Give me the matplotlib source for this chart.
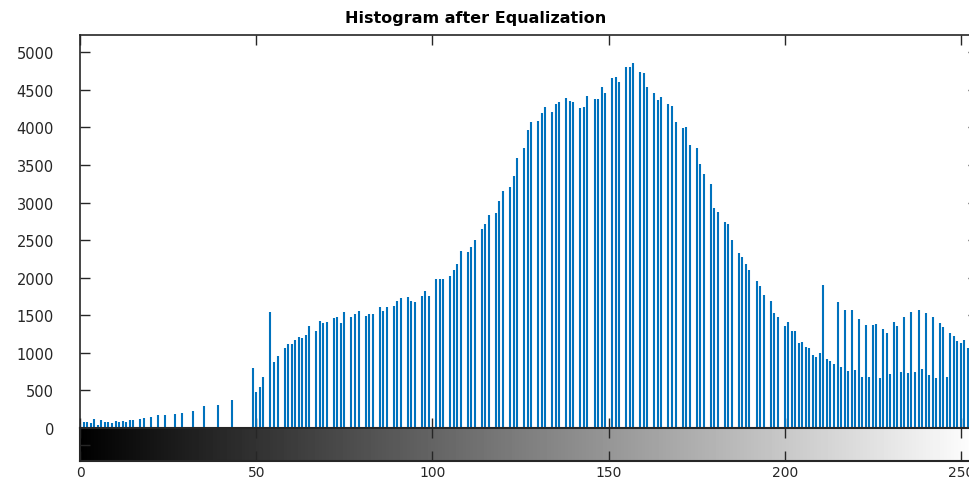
import matplotlib
matplotlib.use("Agg")
import matplotlib.pyplot as plt
import numpy as np

# gray levels with a nonzero count, and their counts
levels = [0, 1, 2, 3, 4, 5, 6, 7, 8, 9, 10, 11, 12, 13, 14, 15, 17, 18, 20, 22,
          24, 27, 29, 32, 35, 39, 43, 49, 50, 51, 52, 54, 55, 56, 58, 59, 60, 61,
          62, 63, 64, 65, 67, 68, 69, 70, 72, 73, 74, 75, 77, 78, 79, 81, 82, 83,
          85, 86, 87, 89, 90, 91, 93, 94, 95, 97, 98, 99, 101, 102, 103, 105, 106,
          107, 108, 110, 111, 112, 114, 115, 116, 118, 119, 120, 122, 123, 124,
          126, 127, 128, 130, 131, 132, 134, 135, 136, 138, 139, 140, 142, 143,
          144, 146, 147, 148, 149, 151, 152, 153, 155, 156, 157, 159, 160, 161,
          163, 164, 165, 167, 168, 169, 171, 172, 173, 175, 176, 177, 179, 180,
          181, 183, 184, 185, 187, 188, 189, 190, 192, 193, 194, 196, 197, 198,
          200, 201, 202, 203, 204, 205, 206, 207, 208, 209, 210, 211, 212, 213,
          214, 215, 216, 217, 218, 219, 220, 221, 222, 223, 224, 225, 226, 227,
          228, 229, 230, 231, 232, 233, 234, 235, 236, 237, 238, 239, 240, 241,
          242, 243, 244, 245, 246, 247, 248, 249, 250, 251, 252]
counts = [50, 75, 75, 67, 115, 44, 106, 75, 75, 71, 89, 80, 93, 84, 102, 106, 120, 137, 142, 173,
          177, 182, 204, 226, 288, 306, 368, 805, 482, 541, 674, 1548, 878, 963, 1060, 1113, 1118, 1175,
          1207, 1193, 1233, 1357, 1295, 1428, 1393, 1415, 1460, 1473, 1397, 1540, 1473, 1513, 1561, 1495, 1517, 1517,
          1615, 1557, 1615, 1624, 1690, 1730, 1743, 1695, 1681, 1753, 1819, 1761, 1979, 1979, 1979, 2019, 2103,
          2178, 2351, 2338, 2413, 2502, 2644, 2719, 2835, 2866, 3016, 3154, 3207, 3354, 3593,
          3731, 3962, 4072, 4081, 4192, 4276, 4205, 4312, 4334, 4387, 4356, 4339, 4263, 4276,
          4418, 4374, 4374, 4538, 4454, 4658, 4667, 4601, 4809, 4809, 4858, 4734, 4720, 4534,
          4454, 4361, 4401, 4312, 4281, 4072, 3992, 4010, 3771, 3726, 3509, 3376, 3252, 2923,
          2875, 2746, 2711, 2506, 2324, 2271, 2183, 2100, 1956, 1886, 1770, 1690, 1526, 1477,
          1362, 1406, 1287, 1291, 1136, 1145, 1078, 1065, 976, 949, 998, 1903, 918, 892,
          852, 1677, 812, 1566, 759, 1566, 778, 1448, 683, 1371, 674, 1366, 1380, 661,
          1313, 1269, 719, 1415, 1362, 750, 1477, 728, 1540, 741, 1570, 785, 1526, 710,
          1477, 661, 1397, 1349, 674, 1264, 1229, 1162, 1127, 1171, 1060]

y_ticks = list(range(0, 5001, 500))
x_ticks = [0, 50, 100, 150, 200, 250]
title = "Histogram after Equalization"

plt.rcParams['font.family'] = ['DejaVu Sans']

W, H = 969, 481
fig = plt.figure(figsize=(W / 100, H / 100), dpi=100)

axis_col = '#262626'
x0, x1 = 80.3, 978.4   # axes run past the right edge of the picture (cropped)

ax = fig.add_axes([x0 / W, 1 - 429 / H, (x1 - x0) / W, (429 - 35.7) / H])
ax.vlines(levels, 0, counts, color='#0072BD', linewidth=1.5)
ax.set_xlim(0, 255)
ax.set_ylim(0, 5234)
ax.set_xticks(x_ticks)
ax.set_yticks(y_ticks)
ax.tick_params(axis='both', direction='in', length=7, width=1, color=axis_col,
               labelsize=10.5, labelcolor=axis_col)
ax.tick_params(axis='x', top=True, bottom=True, labelbottom=False)
ax.tick_params(axis='y', left=True, right=True, pad=19)
for s in ax.spines.values():
    s.set_color(axis_col)
    s.set_linewidth(1.2)

# gray level bar under the histogram
cax = fig.add_axes([x0 / W, 1 - 462 / H, (x1 - x0) / W, 33 / H])
grad = np.arange(256).reshape(1, -1)
cax.imshow(grad, cmap='gray', aspect='auto', extent=[0, 255, 0, 1], vmin=0, vmax=255)
cax.set_xlim(0, 255)
cax.set_ylim(0, 1)
cax.set_xticks(x_ticks)
cax.set_yticks([0.5])
cax.set_yticklabels([])
cax.tick_params(axis='both', direction='in', length=7, width=1, color=axis_col,
                labelsize=10, labelcolor=axis_col)
cax.tick_params(axis='x', top=True, bottom=True, pad=3)
for s in cax.spines.values():
    s.set_color(axis_col)
    s.set_linewidth(1.5)

fig.text(475.5 / W, 1 - 18.5 / H, title, ha='center', va='center',
         fontsize=11.5, fontweight='bold', color='black')

fig.savefig('out.png', dpi=100)
